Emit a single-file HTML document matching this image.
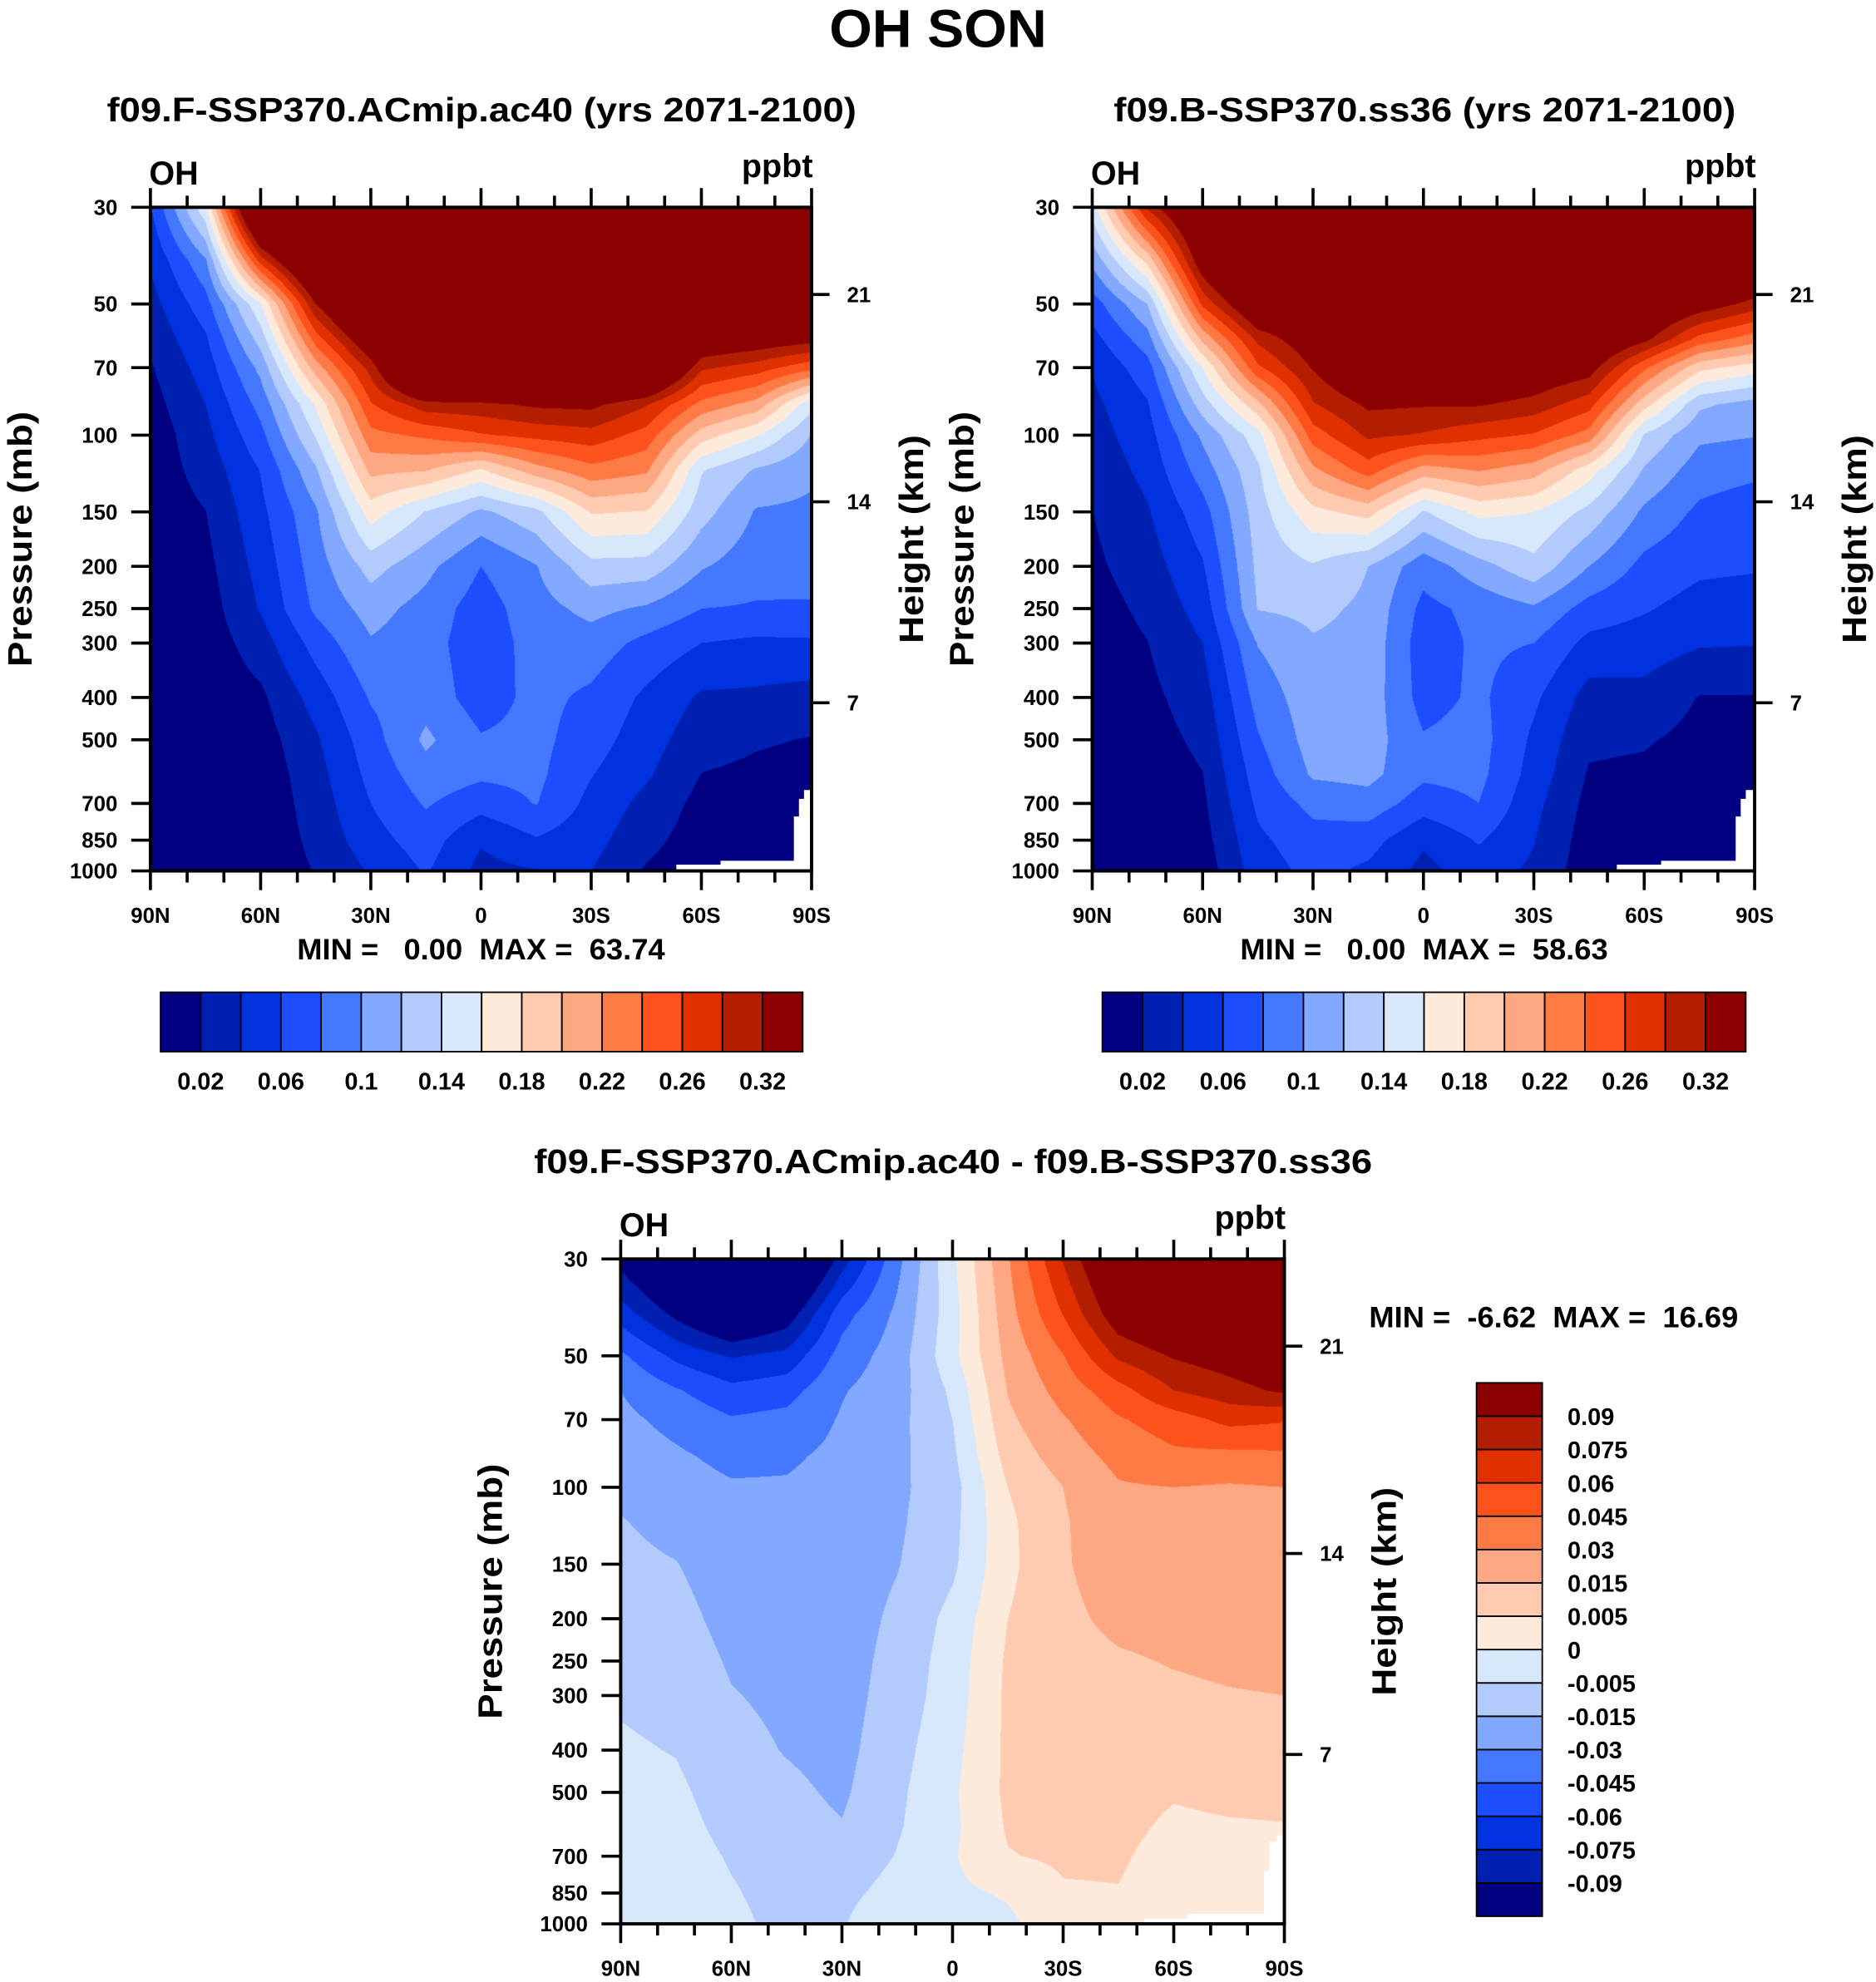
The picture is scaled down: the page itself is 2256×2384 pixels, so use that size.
<!DOCTYPE html>
<html><head><meta charset="utf-8"><title>OH SON</title>
<style>
html,body{margin:0;padding:0;background:#fff;}
#root{position:relative;width:2256px;height:2384px;overflow:hidden;background:#fff;}
canvas{position:absolute;}
#ov{position:absolute;left:0;top:0;}
text{font-family:"Liberation Sans",Arial,sans-serif;font-weight:bold;fill:#000;}
</style></head>
<body>
<div id="root">
<canvas id="c1"></canvas>
<canvas id="c2"></canvas>
<canvas id="c3"></canvas>
<svg id="ov" width="2256" height="2384" viewBox="0 0 1484 1568" preserveAspectRatio="none">
<text x="742" y="37" font-size="42" text-anchor="middle" textLength="172" lengthAdjust="spacingAndGlyphs">OH SON</text>
<text x="381" y="96" font-size="27" text-anchor="middle" textLength="593" lengthAdjust="spacingAndGlyphs">f09.F-SSP370.ACmip.ac40 (yrs 2071-2100)</text>
<text x="1127" y="96" font-size="27" text-anchor="middle" textLength="492" lengthAdjust="spacingAndGlyphs">f09.B-SSP370.ss36 (yrs 2071-2100)</text>
<text x="754" y="928" font-size="27" text-anchor="middle" textLength="663" lengthAdjust="spacingAndGlyphs">f09.F-SSP370.ACmip.ac40 - f09.B-SSP370.ss36</text>
<text x="235" y="759" font-size="23" textLength="291" lengthAdjust="spacingAndGlyphs" xml:space="preserve">MIN =   0.00  MAX =  63.74</text>
<text x="981" y="759" font-size="23" textLength="291" lengthAdjust="spacingAndGlyphs" xml:space="preserve">MIN =   0.00  MAX =  58.63</text>
<text x="1083" y="1050" font-size="23" textLength="292" lengthAdjust="spacingAndGlyphs" xml:space="preserve">MIN =  -6.62  MAX =  16.69</text>
<polygon points="535,689 535,684 570,684 570,681 628,681 628,646 632,646 632,632 636,632 636,625 642,625 642,689" fill="#fff"/>
<polygon points="1279,689 1279,684 1314,684 1314,681 1373,681 1373,646 1377,646 1377,632 1381,632 1381,625 1388,625 1388,689" fill="#fff"/>
<polygon points="905,1522 905,1518 939,1518 939,1514 1000,1514 1000,1480 1004,1480 1004,1457 1010,1457 1010,1452 1016,1452 1016,1522" fill="#fff"/>
<g id="axes"></g>
</svg>
</div>
<script>
// ---------- data ----------
const pressureLevels = [30,40,50,60,70,85,100,120,150,200,250,300,400,500,600,700,850,1000];
const latitudes = [90,75,60,45,30,15,0,-15,-30,-45,-60,-75,-90];
const palette = ['#000080','#0020b2','#0032e0','#1c4eff','#4478ff','#82a8ff','#b3cbfc','#d7e8fd','#feeadb','#fecbb1','#fda882','#fe7a45','#fe521d','#e03000','#b31e00','#8b0000'];
const pTickValues = [30,50,70,100,150,200,250,300,400,500,700,850,1000];
const pTickLabels = ['30','50','70','100','150','200','250','300','400','500','700','850','1000'];
const kmTickValues = [7,14,21];
const kmTickLabels = ['7','14','21'];
const latMajor = [90,60,30,0,-30,-60,-90];
const latMajorLabels = ['90N','60N','30N','0','30S','60S','90S'];
const topBarLabels = ['0.02','0.06','0.1','0.14','0.18','0.22','0.26','0.32'];
const topBarLabelSlots = [1,3,5,7,9,11,13,15];
const diffBarLabels = ['0.09','0.075','0.06','0.045','0.03','0.015','0.005','0','-0.005','-0.015','-0.03','-0.045','-0.06','-0.075','-0.09'];

// level-index fields, one array per latitude column (rows follow pressureLevels)
const fieldLeft = [
[2.9,2.1,1.6,1.25,0.9,0.6,0.4,0.4,0.35,0.3,0.3,0.3,0.25,0.25,0.2,0.2,0.2,0.2],
[7.8,4.8,3.6,2.85,2.45,2.0,1.7,1.4,0.98,0.7,0.5,0.4,0.3,0.3,0.25,0.2,0.2,0.2],
[20,13.3,7.9,6.45,5.3,4.35,3.7,3.05,2.74,2.36,2.08,1.53,0.8,0.5,0.35,0.3,0.3,0.3],
[24,18.5,15,12.5,10.5,8.1,7.1,5.85,4.85,4.5,4.2,3.4,2.4,1.85,1.6,1.45,1.25,1.05],
[26,22,19,16.5,14.4,12.9,11.7,10.3,8.5,6.4,5.4,4.9,4.1,3.6,3.3,3.0,2.6,2.1],
[30,27,25,22,20,14.6,12.2,10.1,6.95,5.3,4.6,4.4,4.6,5.2,4.6,4.1,3.5,3.1],
[30,28,26,24,21,14.7,12.9,8.9,5.8,4.0,3.5,3.4,3.5,4.1,4.2,3.4,2.1,1.7],
[32,30,27,25,22,15.2,13.3,10.6,6.7,4.95,4.6,4.4,4.3,4.3,4.25,4.05,2.9,1.95],
[30,28,25,23,20,15.3,13.6,11.7,9.1,6.65,5.3,4.55,3.8,3.45,3.05,2.7,2.35,2.0],
[30,28,25,22,19,14.1,12.6,11.2,8.95,6.6,4.85,3.7,2.8,2.45,2.15,1.7,1.3,0.9],
[25,21,18,16.5,14.2,11.7,9.5,7.1,6.4,5.1,4.0,3.0,1.85,1.4,0.98,0.7,0.5,0.3],
[24,20,17.5,16,13.5,10.6,8.1,5.9,4.9,4.4,3.9,2.8,1.8,1.1,0.8,0.6,0.4,0.3],
[22,19,17,15.5,12.3,7.3,5.95,5.2,4.8,4.35,3.9,2.85,1.6,0.95,0.7,0.5,0.4,0.3]
];
const fieldRight = [
[7.5,5.2,3.5,2.65,2.05,1.75,1.55,1.3,0.98,0.8,0.6,0.5,0.4,0.35,0.3,0.3,0.3,0.3],
[14.2,9.2,6.0,4.6,3.6,2.9,2.6,2.3,1.9,1.5,1.2,0.98,0.75,0.6,0.5,0.4,0.4,0.4],
[18,16,13.2,10.3,8.0,6.5,5.2,4.5,3.6,2.9,2.4,2.0,1.5,1.2,0.98,0.8,0.6,0.4],
[24,20,17,14.3,12.8,9.7,7.6,6.8,6.5,6.25,6.05,5.05,4.4,3.9,3.5,3.2,2.8,2.5],
[22,19.5,17,16,15.1,13.9,12.5,10.8,8.7,6.9,6.25,5.9,5.6,5.45,5.15,4.3,3.6,3.3],
[25,23,21,19,17,15.2,14.2,12.5,9.4,6.0,5.8,5.7,5.6,5.5,5.3,4.6,3.4,2.8],
[26,24,21,19,17.5,15.1,13.9,10.6,6.9,4.4,3.7,3.45,3.6,4.1,4.2,3.5,2.15,1.7],
[26,24,21,19,17,15.1,13.3,11.1,8.3,5.6,4.3,4.2,4.2,4.4,4.3,4.0,3.1,2.5],
[25,22,19.5,17.5,16.3,14.6,12.9,10.5,8.0,6.7,4.85,4.0,3.2,2.8,2.6,2.3,2.05,1.8],
[24,21,18.5,17,15.6,13.4,11.6,8.5,6.7,5.0,3.6,2.7,1.6,1.2,0.9,0.7,0.5,0.4],
[22,19,17,15.4,12.2,9.4,6.9,5.9,4.8,3.7,3.1,2.5,1.7,1.1,0.8,0.6,0.4,0.3],
[22,18.5,15.8,12.7,9.3,6.2,5.2,4.5,3.8,3.2,2.6,2.1,0.95,0.7,0.5,0.4,0.3,0.3],
[21,17.5,14.6,11.5,8.5,5.6,5.05,4.25,3.4,3.1,2.5,2.05,0.95,0.7,0.5,0.4,0.3,0.3]
];
const fieldDiff = [
[0.6,2.5,4.2,5.0,5.25,5.55,5.8,6.05,6.25,6.5,6.7,6.87,7.15,7.4,7.5,7.6,7.7,7.7],
[-1.5,0.7,2.75,4.1,4.7,5.15,5.4,5.7,6.03,6.3,6.5,6.65,6.95,7.2,7.35,7.5,7.6,7.7],
[-3,-0.9,1.9,3.3,4.1,4.75,5.1,5.3,5.5,5.7,5.9,6.05,6.3,6.5,6.7,6.9,7.1,7.25],
[-2.5,0.3,2.3,3.6,4.3,4.85,5.1,5.25,5.4,5.55,5.7,5.8,5.95,6.2,6.35,6.45,6.6,6.7],
[1.5,3.6,4.4,4.92,5.1,5.25,5.35,5.4,5.45,5.5,5.55,5.6,5.7,5.85,6.05,6.3,6.7,6.9],
[4.7,5.2,5.5,5.6,5.7,5.75,5.8,5.85,5.95,6.2,6.35,6.45,6.65,6.8,6.9,7.05,7.4,7.95],
[7.8,7.6,7.7,7.2,7.0,6.8,6.6,6.7,6.8,7.3,7.45,7.5,7.7,7.85,7.8,7.9,7.8,7.5],
[10.9,10.6,10.3,10.05,9.8,9.4,9.0,8.8,8.75,9.0,9.15,9.2,9.2,9.2,9.1,8.95,8.1,7.8],
[14.1,13.05,11.95,11.4,10.9,10.45,10.0,9.9,9.9,9.8,9.7,9.6,9.5,9.4,9.3,9.15,8.9,8.6],
[17,15.8,14.2,12.6,11.9,11.3,10.9,10.7,10.5,10.2,9.9,9.75,9.55,9.4,9.3,9.15,8.95,8.7],
[18,16.8,15.1,14.0,12.5,11.8,11.0,10.8,10.6,10.3,10.05,9.85,9.55,9.1,8.8,8.55,8.4,8.3],
[19,17.5,15.6,14.6,13.3,11.7,10.9,10.75,10.6,10.35,10.15,9.95,9.6,9.25,8.9,8.7,8.5,8.4],
[19,17.5,16.2,15.2,13.1,11.8,11.0,10.85,10.65,10.4,10.2,10.0,9.6,9.3,8.95,8.75,8.55,8.45]
];

// ---------- geometry ----------
const SX = 2256/1484, SY = 2384/1568;
const panels = [
  {id:'c1', key:'left', x0:119, x1:642, y0:164, y1:689, field:fieldLeft, kmY:[556,397,233]},
  {id:'c2', key:'right', x0:864, x1:1388, y0:164, y1:689, field:fieldRight, kmY:[556,397,233]},
  {id:'c3', key:'difference', x0:491, x1:1016, y0:996, y1:1522, field:fieldDiff, kmY:[1388,1229,1065]}
];
function yOfP(pn,p){return pn.y0+(pn.y1-pn.y0)*Math.log(p/30)/Math.log(1000/30);}
function xOfLat(pn,lat){return pn.x0+(90-lat)/180*(pn.x1-pn.x0);}

function hexToRgb(h){return [parseInt(h.substr(1,2),16),parseInt(h.substr(3,2),16),parseInt(h.substr(5,2),16)];}
const rgbPal = palette.map(hexToRgb);

function drawField(pn){
  const cv=document.getElementById(pn.id);
  const L=Math.round(pn.x0*SX), T=Math.round(pn.y0*SY);
  const W=Math.round(pn.x1*SX)-L, H=Math.round(pn.y1*SY)-T;
  cv.width=W; cv.height=H; cv.style.left=L+'px'; cv.style.top=T+'px';
  const ctx=cv.getContext('2d'); const img=ctx.createImageData(W,H);
  const rowY=pressureLevels.map(p=>yOfP(pn,p));
  const nC=latitudes.length;
  const colX=latitudes.map(l=>xOfLat(pn,l));
  for(let py=0;py<H;py++){
    const yd=(T+py+0.5)/SY;
    let r=0; while(r<rowY.length-2 && yd>rowY[r+1]) r++;
    let t=(yd-rowY[r])/(rowY[r+1]-rowY[r]); t=Math.max(0,Math.min(1,t));
    for(let px=0;px<W;px++){
      const xd=(L+px+0.5)/SX;
      let c=0; while(c<nC-2 && xd>colX[c+1]) c++;
      let u=(xd-colX[c])/(colX[c+1]-colX[c]); u=Math.max(0,Math.min(1,u));
      const f=pn.field;
      const v=(1-u)*((1-t)*f[c][r]+t*f[c][r+1])+u*((1-t)*f[c+1][r]+t*f[c+1][r+1]);
      const k=Math.max(0,Math.min(15,Math.floor(v)));
      const col=rgbPal[k]; const o=(py*W+px)*4;
      img.data[o]=col[0];img.data[o+1]=col[1];img.data[o+2]=col[2];img.data[o+3]=255;
    }
  }
  ctx.putImageData(img,0,0);
}
panels.forEach(drawField);

// ---------- axes ----------
const NS='http://www.w3.org/2000/svg';
const g=document.getElementById('axes');
function mk(tag,attrs){const e=document.createElementNS(NS,tag);for(const k in attrs)e.setAttribute(k,attrs[k]);g.appendChild(e);return e;}
function line(x1,y1,x2,y2,w){return mk('line',{x1:x1,y1:y1,x2:x2,y2:y2,stroke:'#000','stroke-width':w||2.4,'stroke-linecap':'square'});}
function txt(s,x,y,size,anchor){const e=mk('text',{x:x,y:y,'font-size':size,'text-anchor':anchor||'start'});e.textContent=s;return e;}

panels.forEach(pn=>{
  const fr=mk('rect',{x:pn.x0,y:pn.y0,width:pn.x1-pn.x0,height:pn.y1-pn.y0,fill:'none',stroke:'#000','stroke-width':2.6});
  
  
  for(let lat=90;lat>=-90;lat-=10){
    const x=xOfLat(pn,lat); const major=(lat%30===0); const len=major?14:8;
    const tb=line(x,pn.y1,x,pn.y1+len);
    
    
    const tt=line(x,pn.y0,x,pn.y0-len);
    
    
  }
  latMajor.forEach((lat,i)=>{
    const t=txt(latMajorLabels[i],xOfLat(pn,lat),pn.y1+41,17,'middle');
    
    
  });
  pTickValues.forEach((p,i)=>{
    const y=yOfP(pn,p);
    const tk=line(pn.x0-14,y,pn.x0,y);
    
    
    const t=txt(pTickLabels[i],pn.x0-26,y+6,17,'end');
    
    
  });
  kmTickValues.forEach((km,i)=>{
    const y=pn.kmY[i];
    const tk=line(pn.x1,y,pn.x1+13,y);
    
    
    const t=txt(kmTickLabels[i],pn.x1+28,y+6,17,'start');
    
    
  });
  const oh=txt('OH',pn.x0-1,pn.y0-18,26,'start');
  
  
  const un=txt('ppbt',pn.x1+1,pn.y0-24,26,'end');
  
  
  const cy=(pn.y0+pn.y1)/2;
  const ytx=pn.x0-94, ytx2=pn.x1+88;
  const yt=mk('text',{x:ytx,y:cy,'font-size':27,'text-anchor':'middle',transform:'rotate(-90 '+ytx+' '+cy+')',textLength:202,lengthAdjust:'spacingAndGlyphs'});
  yt.textContent='Pressure (mb)';
  
  
  const ht=mk('text',{x:ytx2,y:cy,'font-size':27,'text-anchor':'middle',transform:'rotate(-90 '+ytx2+' '+cy+')',textLength:165,lengthAdjust:'spacingAndGlyphs'});
  ht.textContent='Height (km)';
  
  
});

// horizontal colorbars
[[127,635,'left'],[872,1381,'right']].forEach(cb=>{
  const x0=cb[0],x1=cb[1],y0=785,y1=832,w=(x1-x0)/16;
  palette.forEach((c,i)=>{
    const r=mk('rect',{x:x0+i*w,y:y0,width:w,height:y1-y0,fill:c,stroke:'#000','stroke-width':1.2});
    
    
  });
  topBarLabels.forEach((s,i)=>{
    const t=txt(s,x0+topBarLabelSlots[i]*w,y1+30,19,'middle');
    
    
  });
});
// vertical colorbar (difference)
(function(){
  const x0=1168,x1=1220,y0=1094,y1=1516,h=(y1-y0)/16;
  palette.forEach((c,i)=>{
    const r=mk('rect',{x:x0,y:y0+(15-i)*h,width:x1-x0,height:h,fill:c,stroke:'#000','stroke-width':1.2});
    
    
  });
  diffBarLabels.forEach((s,i)=>{
    const t=txt(s,1240,y0+(i+1)*h+7,19,'start');
    
    
  });
})();
</script>
</body></html>
